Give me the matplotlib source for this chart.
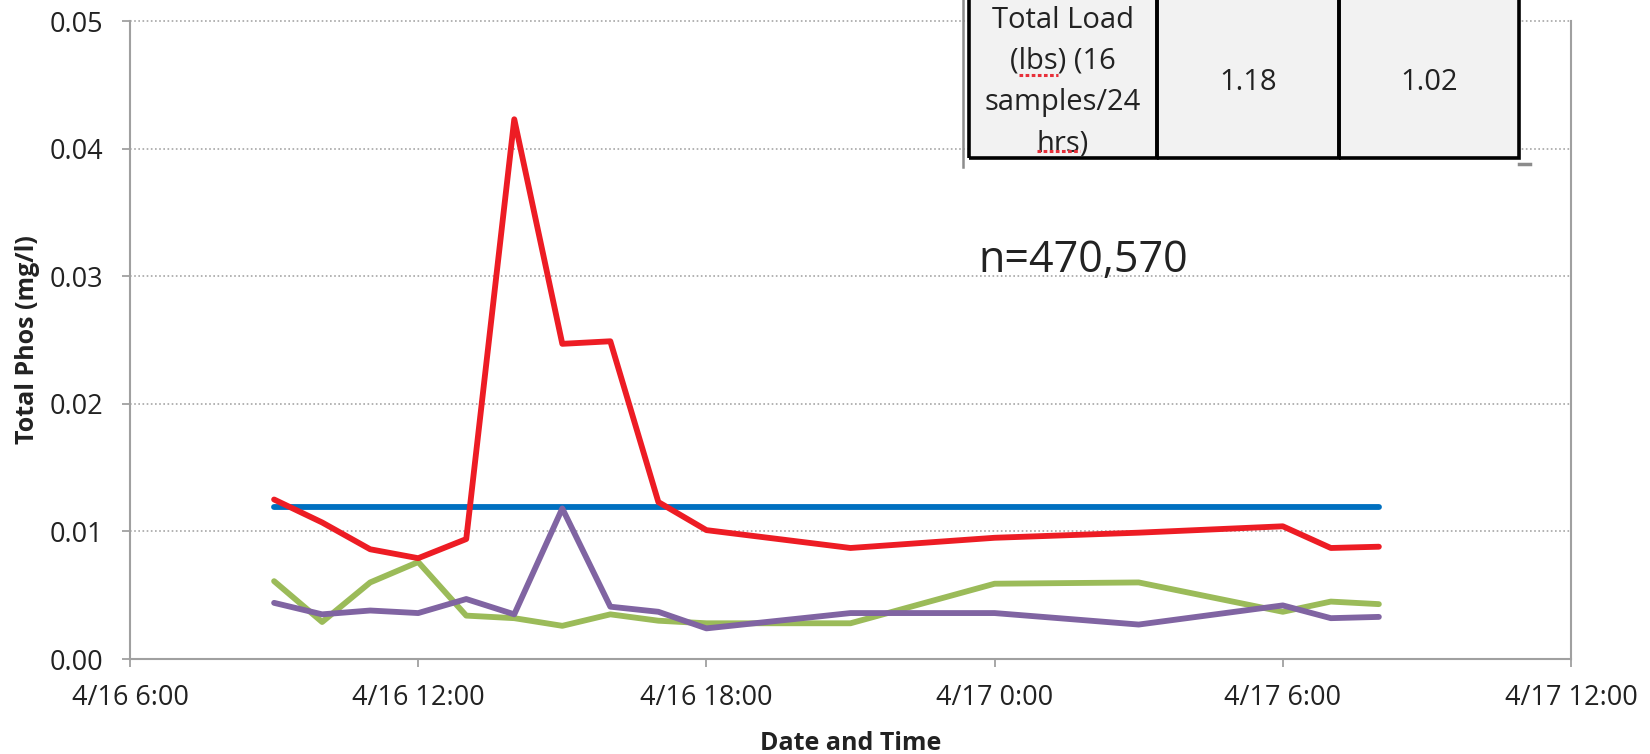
import matplotlib
matplotlib.use("Agg")
import matplotlib.pyplot as plt
import matplotlib.dates as mdates
from matplotlib.lines import Line2D
from matplotlib.patches import Rectangle
from matplotlib.ticker import FuncFormatter
import pandas as pd

plt.rcParams["font.family"] = ["Open Sans", "DejaVu Sans"]

# ---- data ----
TIMES = [
    "2014-04-16 09:00", "2014-04-16 10:00", "2014-04-16 11:00", "2014-04-16 12:00",
    "2014-04-16 13:00", "2014-04-16 14:00", "2014-04-16 15:00", "2014-04-16 16:00",
    "2014-04-16 17:00", "2014-04-16 18:00", "2014-04-16 21:00", "2014-04-17 00:00",
    "2014-04-17 03:00", "2014-04-17 06:00", "2014-04-17 07:00", "2014-04-17 08:00",
]
RED = [0.0125, 0.0107, 0.0086, 0.0079, 0.0094, 0.0423, 0.0247, 0.0249,
       0.0123, 0.0101, 0.0087, 0.0095, 0.0099, 0.0104, 0.0087, 0.0088]
GREEN = [0.0061, 0.0029, 0.0060, 0.0076, 0.0034, 0.0032, 0.0026, 0.0035,
         0.0030, 0.0028, 0.0028, 0.0059, 0.0060, 0.0037, 0.0045, 0.0043]
PURPLE = [0.0044, 0.0035, 0.0038, 0.0036, 0.0047, 0.0035, 0.0118, 0.0041,
          0.0037, 0.0024, 0.0036, 0.0036, 0.0027, 0.0042, 0.0032, 0.0033]
BLUE_LEVEL = 0.0119

TABLE_LABEL = "Total Load\n(lbs) (16\nsamples/24\nhrs)"
TABLE_VALUES = ["1.18", "1.02"]
NOTE = "n=470,570"

X_START = "2014-04-16 06:00"
X_END = "2014-04-17 12:00"
Y_TICKS = [0.00, 0.01, 0.02, 0.03, 0.04, 0.05]

W, H = 1650, 754
GRAY = "#a0a0a0"


def fx(px):
    return px / W


def fy(py):
    return 1 - py / H


def main():
    t = pd.to_datetime(TIMES)

    fig = plt.figure(figsize=(W / 100, H / 100), dpi=100)
    ax = fig.add_axes([fx(130), fy(659), (1571 - 130) / W, (659 - 21) / H])

    lw = 4.2
    ax.plot(t, [BLUE_LEVEL] * len(t), color="#0070C0", linewidth=lw,
            solid_capstyle="round", zorder=3)
    ax.plot(t, GREEN, color="#9BBB59", linewidth=lw, zorder=4,
            solid_capstyle="round")
    ax.plot(t, PURPLE, color="#8064A2", linewidth=lw, zorder=5,
            solid_capstyle="round")
    ax.plot(t, RED, color="#ED1C24", linewidth=lw, zorder=6,
            solid_capstyle="round")

    # axes
    ax.set_xlim(pd.Timestamp(X_START), pd.Timestamp(X_END))
    ax.set_ylim(Y_TICKS[0], Y_TICKS[-1])
    ax.set_yticks(Y_TICKS)
    ax.yaxis.set_major_formatter(FuncFormatter(lambda v, p: f"{v:.2f}"))
    ax.xaxis.set_major_locator(mdates.HourLocator(byhour=[0, 6, 12, 18]))

    def fmt_date(v, pos):
        d = mdates.num2date(v)
        return f"{d.month}/{d.day} {d.hour}:{d.minute:02d}"

    ax.xaxis.set_major_formatter(FuncFormatter(fmt_date))

    ax.tick_params(axis="both", direction="out", length=6, width=1.3,
                   color=GRAY, labelsize=19.5, labelcolor="#222222")
    ax.tick_params(axis="x", pad=12)
    ax.tick_params(axis="y", pad=13)

    for side in ["left", "bottom", "right"]:
        ax.spines[side].set_color(GRAY)
        ax.spines[side].set_linewidth(1.5)
    ax.spines["top"].set_visible(False)

    ax.grid(axis="y", linestyle=(0, (1, 1.5)), color="#a6a6a6", linewidth=1.2,
            clip_on=False)
    ax.set_axisbelow(True)

    pos = ax.get_position()
    ax.set_ylabel("Total Phos (mg/l)", fontsize=18, fontweight="bold",
                  color="#222222")
    ax.yaxis.set_label_coords((fx(27) - pos.x0) / pos.width, 0.5)
    ax.set_xlabel("Date and Time", fontsize=18, fontweight="bold",
                  color="#222222")
    ax.xaxis.set_label_coords(0.5, (fy(743) - pos.y0) / pos.height)
    ax.xaxis.label.set_va("center")
    ax.yaxis.label.set_va("center")

    ax.text(0.589, 0.624, NOTE, transform=ax.transAxes, fontsize=31,
            color="#222222", ha="left", va="center")

    # ---- inset table (top edge cut off by the image border) ----
    # row 0 is an empty strip running past the image top, row 1 holds the values
    ax_w, ax_h = 1441, 638
    top_px, text_top_px, bottom_px = -20, 6, 158
    x0 = (969 - 130) / ax_w
    y0 = (659 - bottom_px) / ax_h
    tw = (1519 - 969) / ax_w
    th = (bottom_px - top_px) / ax_h
    ax.add_patch(Rectangle((x0, y0), tw, th, transform=ax.transAxes,
                           facecolor="#f2f2f2", edgecolor="none",
                           zorder=9, clip_on=False))
    tbl = ax.table(cellText=[["", "", ""], [TABLE_LABEL] + TABLE_VALUES],
                   colWidths=[188, 182, 180], cellLoc="center",
                   bbox=[x0, y0, tw, th])
    tbl.auto_set_font_size(False)
    tbl.set_fontsize(21)
    tbl.set_zorder(10)
    tbl.set_clip_on(False)
    for (r, c), cell in tbl.get_celld().items():
        cell.set_height(text_top_px - top_px if r == 0
                        else bottom_px - text_top_px)
        cell.visible_edges = "LR" if r == 0 else "BLR"
        cell.set_facecolor("none")
        cell.set_edgecolor("black")
        cell.set_linewidth(2.6)
        cell.set_clip_on(False)
        cell.get_text().set_clip_on(False)
        cell.get_text().set_color("#222222")
        cell.get_text().set_linespacing(1.55)

    # frame edge left of the pasted table
    fig.add_artist(Line2D([fx(963), fx(963)], [fy(0), fy(167)],
                          color="#8c8c8c", linewidth=1.8))
    fig.add_artist(Line2D([fx(1519), fx(1530)], [fy(164), fy(164)],
                          color="#8c8c8c", linewidth=2.5))

    # red spell-check underlines under "lbs" and "hrs"
    fig.canvas.draw()
    renderer = fig.canvas.get_renderer()
    htxt = tbl[1, 0].get_text()
    bb = htxt.get_window_extent(renderer)
    prop = htxt.get_fontproperties()
    lines = TABLE_LABEL.split("\n")
    line_h = bb.height / len(lines)
    cx = (bb.x0 + bb.x1) / 2

    def tw_(s):
        return renderer.get_text_width_height_descent(s, prop, ismath=False)[0]

    for li, word, pre in [(1, "lbs", "("), (3, "hrs", "")]:
        lw_ = tw_(lines[li])
        left = cx - lw_ / 2 + tw_(pre)
        right = left + tw_(word)
        ybase = bb.y1 - (li + 1) * line_h + line_h * 0.18
        fig.add_artist(Line2D([left / W, right / W], [ybase / H, ybase / H],
                              color="#e8303a", linewidth=2.2,
                              linestyle=(0, (1.2, 0.8)), zorder=20))

    fig.savefig("out.png", dpi=100)
    plt.close(fig)


if __name__ == "__main__":
    main()
